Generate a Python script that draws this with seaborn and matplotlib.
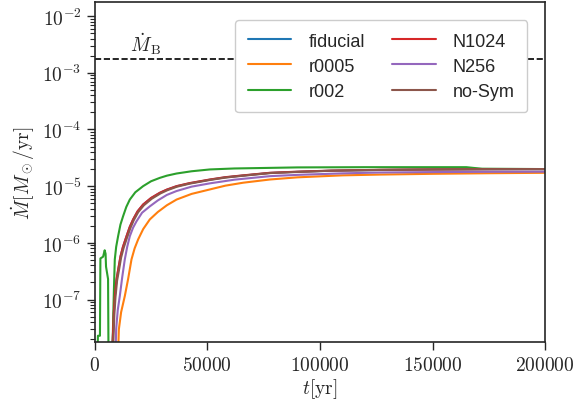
import numpy as np
import pandas as pd
import seaborn as sns
from matplotlib import pyplot as plt

sns.set_style("ticks")
plt.rcParams["font.family"] = "serif"
plt.rcParams["font.serif"] = ["cmr10"]
plt.rcParams["mathtext.fontset"] = "cm"
plt.rcParams["axes.formatter.use_mathtext"] = True
plt.rcParams["axes.unicode_minus"] = False

runs = ["fiducial", "r0005", "r002", "N1024", "N256", "no-Sym"]

t_fiducial = [7700, 8440, 8900, 9640, 10500, 11420, 12500, 14090, 15500, 17020, 19000,
              21470, 25000, 28890, 32000, 36310, 42000, 51110, 58000, 65900, 77780,
              90000, 105000, 126700, 150000, 175000, 200000]
mdot_fiducial = [1e-8, 5.6e-8, 1.12e-7, 2.2e-7, 3.5e-7, 5.7e-7, 8.4e-7, 1.3e-6, 1.88e-6,
                 2.57e-6, 3.58e-6, 4.72e-6, 6.15e-6, 7.6e-6, 8.65e-6, 9.95e-6, 1.12e-5,
                 1.3e-5, 1.43e-5, 1.54e-5, 1.71e-5, 1.79e-5, 1.87e-5, 1.93e-5, 1.97e-5,
                 1.99e-5, 2.0e-5]

t_r0005 = [10300, 10700, 11700, 13330, 14800, 16300, 17700, 19260, 21500, 24440, 28000,
           32000, 36310, 43000, 51110, 58000, 65900, 77780, 90000, 110000, 126700,
           150000, 175000, 200000]
mdot_r0005 = [1e-8, 3e-8, 6e-8, 1.15e-7, 2.3e-7, 5.1e-7, 8e-7, 1.15e-6, 1.75e-6, 2.59e-6,
              3.5e-6, 4.6e-6, 5.8e-6, 7.3e-6, 8.75e-6, 1.02e-5, 1.15e-5, 1.31e-5,
              1.43e-5, 1.55e-5, 1.6e-5, 1.65e-5, 1.69e-5, 1.72e-5]

t_r002 = [1200, 1400, 2300, 2500, 3700, 4400, 4800, 5000, 5900, 6100, 7800, 8200, 8500,
          8890, 9500, 10360, 11400, 12590, 14000, 15560, 18000, 21470, 25000, 28890,
          32000, 36310, 43000, 51110, 62000, 77780, 90000, 120000, 150000, 165000,
          168000, 172000, 200000]
mdot_r002 = [1e-8, 2.3e-8, 2.3e-8, 5.3e-7, 5.7e-7, 7.4e-7, 6.4e-7, 3.8e-7, 2.3e-7, 1e-8,
             1e-8, 5e-8, 1.5e-7, 5.1e-7, 8.5e-7, 1.31e-6, 2.1e-6, 2.96e-6, 4.3e-6, 5.8e-6,
             7.8e-6, 1.0e-5, 1.22e-5, 1.4e-5, 1.53e-5, 1.67e-5, 1.83e-5, 1.97e-5, 2.05e-5,
             2.1e-5, 2.14e-5, 2.16e-5, 2.16e-5, 2.16e-5, 2.1e-5, 2.03e-5, 2.0e-5]

t_n1024 = [7700, 8440, 8900, 9640, 10500, 11420, 12500, 14090, 15500, 17020, 19000,
           21470, 25000, 28890, 32000, 36310, 42000, 51110, 58000, 65900, 77780,
           90000, 105000, 126700, 150000, 175000, 200000]
mdot_n1024 = [1e-8, 5.8e-8, 1.15e-7, 2.26e-7, 3.6e-7, 5.8e-7, 8.5e-7, 1.31e-6, 1.9e-6,
              2.59e-6, 3.6e-6, 4.75e-6, 6.2e-6, 7.65e-6, 8.7e-6, 1.0e-5, 1.13e-5,
              1.31e-5, 1.44e-5, 1.55e-5, 1.72e-5, 1.8e-5, 1.88e-5, 1.94e-5, 1.97e-5,
              1.99e-5, 2.0e-5]

t_n256 = [9200, 9500, 10200, 11110, 12200, 13330, 14400, 15560, 17000, 18530, 21000,
          24440, 28000, 32000, 36310, 43000, 51110, 62000, 77780, 90000, 110000,
          126700, 150000, 175000, 200000]
mdot_n256 = [1e-8, 3e-8, 6.5e-8, 1.15e-7, 2.5e-7, 5.1e-7, 8.5e-7, 1.31e-6, 1.85e-6, 2.4e-6,
             3.4e-6, 4.4e-6, 5.6e-6, 7.0e-6, 8.2e-6, 9.8e-6, 1.12e-5, 1.3e-5, 1.5e-5,
             1.58e-5, 1.68e-5, 1.74e-5, 1.77e-5, 1.79e-5, 1.8e-5]

t_nosym = [8000, 8700, 9200, 9900, 10800, 11700, 12800, 14400, 15800, 17300, 19300,
           21800, 25300, 29200, 32300, 36600, 42300, 51400, 58300, 66200, 78000,
           90000, 105000, 126700, 150000, 175000, 200000]
mdot_nosym = [1e-8, 5.5e-8, 1.1e-7, 2.15e-7, 3.4e-7, 5.5e-7, 8.1e-7, 1.26e-6, 1.82e-6,
              2.5e-6, 3.48e-6, 4.6e-6, 6.0e-6, 7.45e-6, 8.5e-6, 9.8e-6, 1.11e-5, 1.29e-5,
              1.42e-5, 1.53e-5, 1.7e-5, 1.78e-5, 1.87e-5, 1.93e-5, 1.97e-5, 1.99e-5, 2.0e-5]

mdot_bondi = 1.75e-3

series = {
    "fiducial": (t_fiducial, mdot_fiducial),
    "r0005": (t_r0005, mdot_r0005),
    "r002": (t_r002, mdot_r002),
    "N1024": (t_n1024, mdot_n1024),
    "N256": (t_n256, mdot_n256),
    "no-Sym": (t_nosym, mdot_nosym),
}

frames = []
for name in runs:
    t, m = series[name]
    frames.append(pd.DataFrame({"t": t, "mdot": m, "run": name}))
df = pd.concat(frames, ignore_index=True)

fig = plt.figure(figsize=(5.85, 4.06), dpi=100)
ax = fig.add_axes([0.162, 0.154, 0.77, 0.838])

sns.lineplot(data=df, x="t", y="mdot", hue="run", hue_order=runs, palette="tab10",
             estimator=None, sort=False, linewidth=1.5, ax=ax)

ax.axhline(mdot_bondi, color="black", linestyle="--", linewidth=1.2)
ax.text(15500, 2.4e-3, r"$\dot M_{\rm B}$", fontsize=14)

ax.set_yscale("log")
ax.set_xlim(0, 200000)
ax.set_ylim(1.75e-8, 1.75e-2)
ax.set_xticks([0, 50000, 100000, 150000, 200000])
ax.tick_params(axis="both", which="major", labelsize=14, length=6, width=1)
ax.tick_params(axis="both", which="minor", length=3.5, width=0.8)
ax.set_xlabel(r"$t[{\rm yr}]$", fontsize=14, labelpad=2)
ax.set_ylabel(r"$\dot M[M_\odot/{\rm yr}]$", fontsize=14, labelpad=4)
for s in ax.spines.values():
    s.set_linewidth(1.2)

ax.legend(ncol=2, loc="upper right", bbox_to_anchor=(0.96, 0.948), borderaxespad=0,
          prop={"family": "Liberation Sans", "size": 13}, handlelength=2.4,
          handletextpad=0.95, columnspacing=1.5, framealpha=1,
          borderpad=0.7, labelspacing=0.45)

plt.savefig("out.png", dpi=100)
plt.close()
